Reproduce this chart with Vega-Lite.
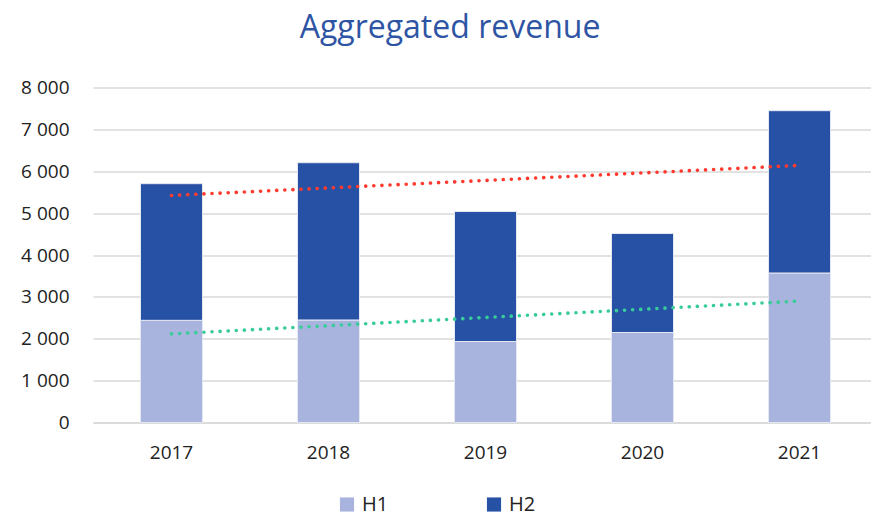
{
  "$schema": "https://vega.github.io/schema/vega-lite/v6.json",
  "width": 778,
  "height": 335,
  "autosize": "none",
  "padding": {"left": 93, "top": 87.5, "right": 0, "bottom": 94.5},
  "background": "white",
  "title": {
    "text": "Aggregated revenue",
    "font": "Open Sans",
    "fontSize": 32,
    "fontWeight": "normal",
    "color": "#2E54A4",
    "anchor": "middle",
    "frame": "group",
    "dx": -32,
    "baseline": "alphabetic",
    "offset": 9
  },
  "config": {
    "view": {"stroke": null},
    "locale": {"number": {"decimal": ",", "thousands": " ", "grouping": [3], "currency": ["", ""]}},
    "font": "Open Sans"
  },
  "datasets": {
    "revenue": [
      {"year": 2017, "half": "H1", "value": 2440},
      {"year": 2017, "half": "H2", "value": 3263},
      {"year": 2018, "half": "H1", "value": 2448},
      {"year": 2018, "half": "H2", "value": 3756},
      {"year": 2019, "half": "H1", "value": 1934},
      {"year": 2019, "half": "H2", "value": 3105},
      {"year": 2020, "half": "H1", "value": 2149},
      {"year": 2020, "half": "H2", "value": 2364},
      {"year": 2021, "half": "H1", "value": 3570},
      {"year": 2021, "half": "H2", "value": 3876}
    ]
  },
  "layer": [
    {
      "data": {"name": "revenue"},
      "mark": {"type": "bar", "width": 62, "stroke": "#E4E8F2", "strokeWidth": 1},
      "encoding": {
        "x": {
          "field": "year",
          "type": "ordinal",
          "title": null,
          "scale": {"paddingInner": 0.6, "paddingOuter": 0.3, "range": [0, 785]},
          "axis": {
            "labelAngle": 0,
            "labelFont": "Open Sans",
            "labelFontSize": 19,
            "labelColor": "#222222",
            "labelPadding": 21,
            "ticks": false,
            "domainColor": "#D9D9D9",
            "domainWidth": 1.3,
            "grid": false
          }
        },
        "y": {
          "field": "value",
          "type": "quantitative",
          "aggregate": "sum",
          "stack": "zero",
          "title": null,
          "scale": {"domain": [0, 8000], "nice": false},
          "axis": {
            "values": [0, 1000, 2000, 3000, 4000, 5000, 6000, 7000, 8000],
            "format": ",d",
            "labelFont": "Open Sans",
            "labelFontSize": 19,
            "labelColor": "#222222",
            "labelPadding": 24,
            "ticks": false,
            "domain": false,
            "gridColor": "#D9D9D9",
            "gridWidth": 1.3
          }
        },
        "color": {
          "field": "half",
          "type": "nominal",
          "scale": {"domain": ["H1", "H2"], "range": ["#A8B4DD", "#2751A5"]},
          "legend": {
            "title": null,
            "orient": "none",
            "legendX": 244,
            "legendY": 407,
            "direction": "horizontal",
            "symbolType": "square",
            "symbolSize": 200,
            "symbolStrokeWidth": 0,
            "labelFont": "Open Sans",
            "labelFontSize": 20,
            "labelColor": "#222222",
            "labelOffset": 5,
            "columnPadding": 95
          }
        },
        "order": {"field": "half"}
      }
    },
    {
      "data": {"name": "revenue"},
      "transform": [
        {"aggregate": [{"op": "sum", "field": "value", "as": "total"}], "groupby": ["year"]},
        {"regression": "total", "on": "year"}
      ],
      "mark": {"type": "line", "color": "#FF3B2F", "strokeWidth": 3.6, "strokeDash": [0.1, 8], "strokeCap": "round"},
      "encoding": {
        "x": {"field": "year", "type": "ordinal"},
        "y": {"field": "total", "type": "quantitative"}
      }
    },
    {
      "data": {"name": "revenue"},
      "transform": [
        {"filter": "datum.half === 'H1'"},
        {"regression": "value", "on": "year"}
      ],
      "mark": {"type": "line", "color": "#38CC9A", "strokeWidth": 3.6, "strokeDash": [0.1, 8], "strokeCap": "round"},
      "encoding": {
        "x": {"field": "year", "type": "ordinal"},
        "y": {"field": "value", "type": "quantitative"}
      }
    }
  ]
}
